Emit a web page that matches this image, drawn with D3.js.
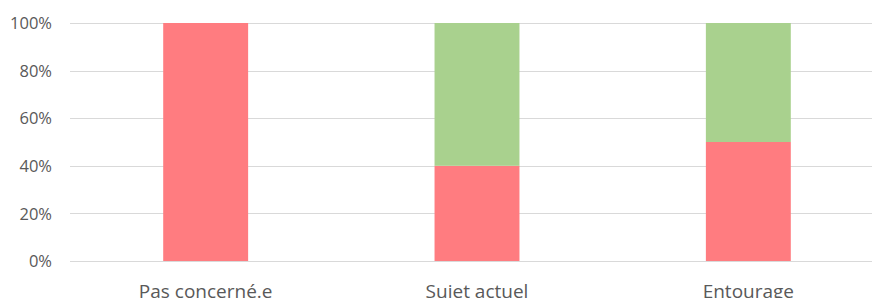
<!DOCTYPE html>
<html><head><meta charset="utf-8">
<script src="https://cdn.jsdelivr.net/npm/d3@7"></script>
<style>body{margin:0;background:#fff;overflow:hidden}text{font-family:"Open Sans",sans-serif;fill:#595959}</style>
</head><body>
<svg id="c" width="872" height="298"></svg>
<script>
const categories = ["Pas concerné.e", "Sujet actuel", "Entourage"];
const seriesNames = ["Non", "Oui"];
const redValues = [1.0, 0.4, 0.5];
const greenValues = [0.0, 0.6, 0.5];
const colors = ["#FF7C80", "#A9D18E"];
const yTicks = [0, 0.2, 0.4, 0.6, 0.8, 1.0];

const svg = d3.select("#c");
const x = d3.scaleBand().domain(categories).range([70, 884]).paddingInner(0.687).paddingOuter(0.3435);
const y = d3.scaleLinear().domain([0, 1]).range([261, 23]);

const data = categories.map((c, i) => ({cat: c, Non: redValues[i], Oui: greenValues[i]}));
const stack = d3.stack().keys(seriesNames)(data);

svg.append("g").selectAll("line").data(yTicks).join("line")
  .attr("x1", 70).attr("x2", 884)
  .attr("y1", d => Math.round(y(d)) + 0.5).attr("y2", d => Math.round(y(d)) + 0.5)
  .attr("stroke", "#d9d9d9").attr("stroke-width", 1);

svg.append("g").selectAll("g").data(stack).join("g")
  .attr("fill", (d, i) => colors[i])
  .selectAll("rect").data(d => d).join("rect")
  .attr("x", d => x(d.data.cat)).attr("width", x.bandwidth())
  .attr("y", d => y(d[1])).attr("height", d => y(d[0]) - y(d[1]));

const yAxis = d3.axisLeft(y).tickValues(yTicks).tickFormat(d3.format(".0%")).tickSize(0).tickPadding(0);
const ga = svg.append("g").attr("transform", "translate(52,0)").call(yAxis);
ga.select(".domain").remove();
ga.selectAll("text").attr("font-size", 16.5).attr("font-family", "Open Sans").attr("fill", "#595959").attr("dy", "0.35em");

const xAxis = d3.axisBottom(x).tickSize(0).tickPadding(0);
const gx = svg.append("g").attr("transform", "translate(0,297.5)").call(xAxis);
gx.select(".domain").remove();
gx.selectAll("text").attr("font-size", 19).attr("font-family", "Open Sans").attr("fill", "#595959").attr("y", 0).attr("dy", "0");
</script>
</body></html>
